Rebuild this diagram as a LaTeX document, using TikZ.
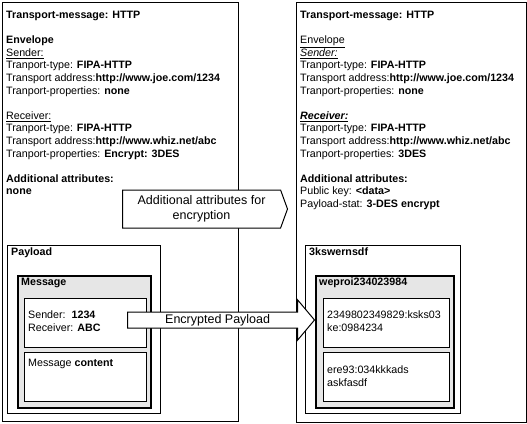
\documentclass[tikz,border=0pt]{standalone}
\usepackage{fontspec}
\setmainfont{Liberation Sans}
\usetikzlibrary{shapes.arrows,shapes.symbols}
\definecolor{boxgray}{HTML}{E6E6E6}
\tikzset{
  box/.style={draw, line width=1pt, inner sep=0pt, anchor=north west},
  msgbox/.style={box, fill=boxgray, line width=2pt},
  txt/.style={inner sep=0pt, anchor=north west, align=left, font=\fontsize{10.7}{12.6}\selectfont},
  bigarrow/.style={draw, fill=white, line width=1pt, font=\fontsize{12.5}{15.5}\selectfont, inner sep=0pt},
}
\begin{document}
\begin{tikzpicture}[x=1pt,y=-1pt]
\fill[white] (0,0) rectangle (527,423);
\useasboundingbox (0,0) rectangle (527,423);
% outer transport messages
\node[box, minimum width=236, minimum height=419] (leftmsg) at (2,2) {};
\node[box, minimum width=230, minimum height=420] (rightmsg) at (296,2) {};
% left payload
\node[box, minimum width=153, minimum height=168] (leftpay) at (7,245) {};
\node[msgbox, minimum width=133, minimum height=132] (leftmess) at (17,275) {};
\node[box, fill=white, minimum width=122, minimum height=49] (lefthead) at (24,298) {};
\node[box, fill=white, minimum width=122, minimum height=49] (leftbody) at (24,352) {};
% right payload
\node[box, minimum width=155, minimum height=168] (rightpay) at (305,245) {};
\node[msgbox, minimum width=138, minimum height=132] (rightmess) at (315,275) {};
\node[box, fill=white, minimum width=126, minimum height=49] (righthead) at (323,298) {};
\node[box, fill=white, minimum width=126, minimum height=49] (rightbody) at (323,352) {};

\node[txt] (lefttext) at ([shift={(4,9)}]leftmsg.north west) {\textbf{Transport-message: HTTP}\\[12.6pt]
\textbf{Envelope}\\
\underline{Sender:}\\
Tranport-type: \textbf{FIPA-HTTP}\\
Transport address:\textbf{http://www.joe.com/1234}\\
Tranport-properties: \textbf{none}\\[12.6pt]
\underline{Receiver:}\\
Tranport-type: \textbf{FIPA-HTTP}\\
Transport address:\textbf{http://www.whiz.net/abc}\\
Tranport-properties: \textbf{Encrypt: 3DES}\\[12.6pt]
\textbf{Additional attributes:}\\
\textbf{none}};
\node[txt] (righttext) at ([shift={(4,9)}]rightmsg.north west) {\textbf{Transport-message: HTTP}\\[12.6pt]
\underline{Envelope}\\
\underline{\textit{Sender:}}\\
Tranport-type: \textbf{FIPA-HTTP}\\
Transport address:\textbf{http://www.joe.com/1234}\\
Tranport-properties: \textbf{none}\\[12.6pt]
\underline{\textbf{\textit{Receiver:}}}\\
Tranport-type: \textbf{FIPA-HTTP}\\
Transport address:\textbf{http://www.whiz.net/abc}\\
Tranport-properties: \textbf{3DES}\\[12.6pt]
\textbf{Additional attributes:}\\
Public key: \textbf{<data>}\\
Payload-stat: \textbf{3-DES encrypt}};

\node[txt] (leftpaylbl) at ([shift={(4,3)}]leftpay.north west) {\textbf{Payload}};
\node[txt] (leftmesslbl) at ([shift={(4,3)}]leftmess.north west) {\textbf{Message}};
\node[txt] (leftheadtxt) at ([shift={(4,13)}]lefthead.north west) {Sender:\ \ \textbf{1234}\\Receiver: \textbf{ABC}};
\node[txt] (leftbodytxt) at ([shift={(4,7)}]leftbody.north west) {Message \textbf{content}};
\node[txt] (rightpaylbl) at ([shift={(4,3)}]rightpay.north west) {\textbf{3kswernsdf}};
\node[txt] (rightmesslbl) at ([shift={(4,3)}]rightmess.north west) {\textbf{weproi234023984}};
\node[txt] (rightheadtxt) at ([shift={(4,13)}]righthead.north west) {2349802349829:ksks03\\ke:0984234};
\node[txt] (rightbodytxt) at ([shift={(4,14)}]rightbody.north west) {ere93:034kkkads\\askfasdf};

% arrows between the two messages
\node[bigarrow, signal, signal to=east, signal pointer angle=140, minimum width=165, minimum height=38, align=center, anchor=west] (attrarrow) at (122,209) {Additional attributes for\\encryption};
\node[bigarrow, single arrow, single arrow head extend=12pt, single arrow tip angle=100, minimum height=187, text height=9pt, text depth=3pt, inner ysep=1.5pt, anchor=tail] (payarrow) at (127,320) {Encrypted Payload};
\end{tikzpicture}
\end{document}
